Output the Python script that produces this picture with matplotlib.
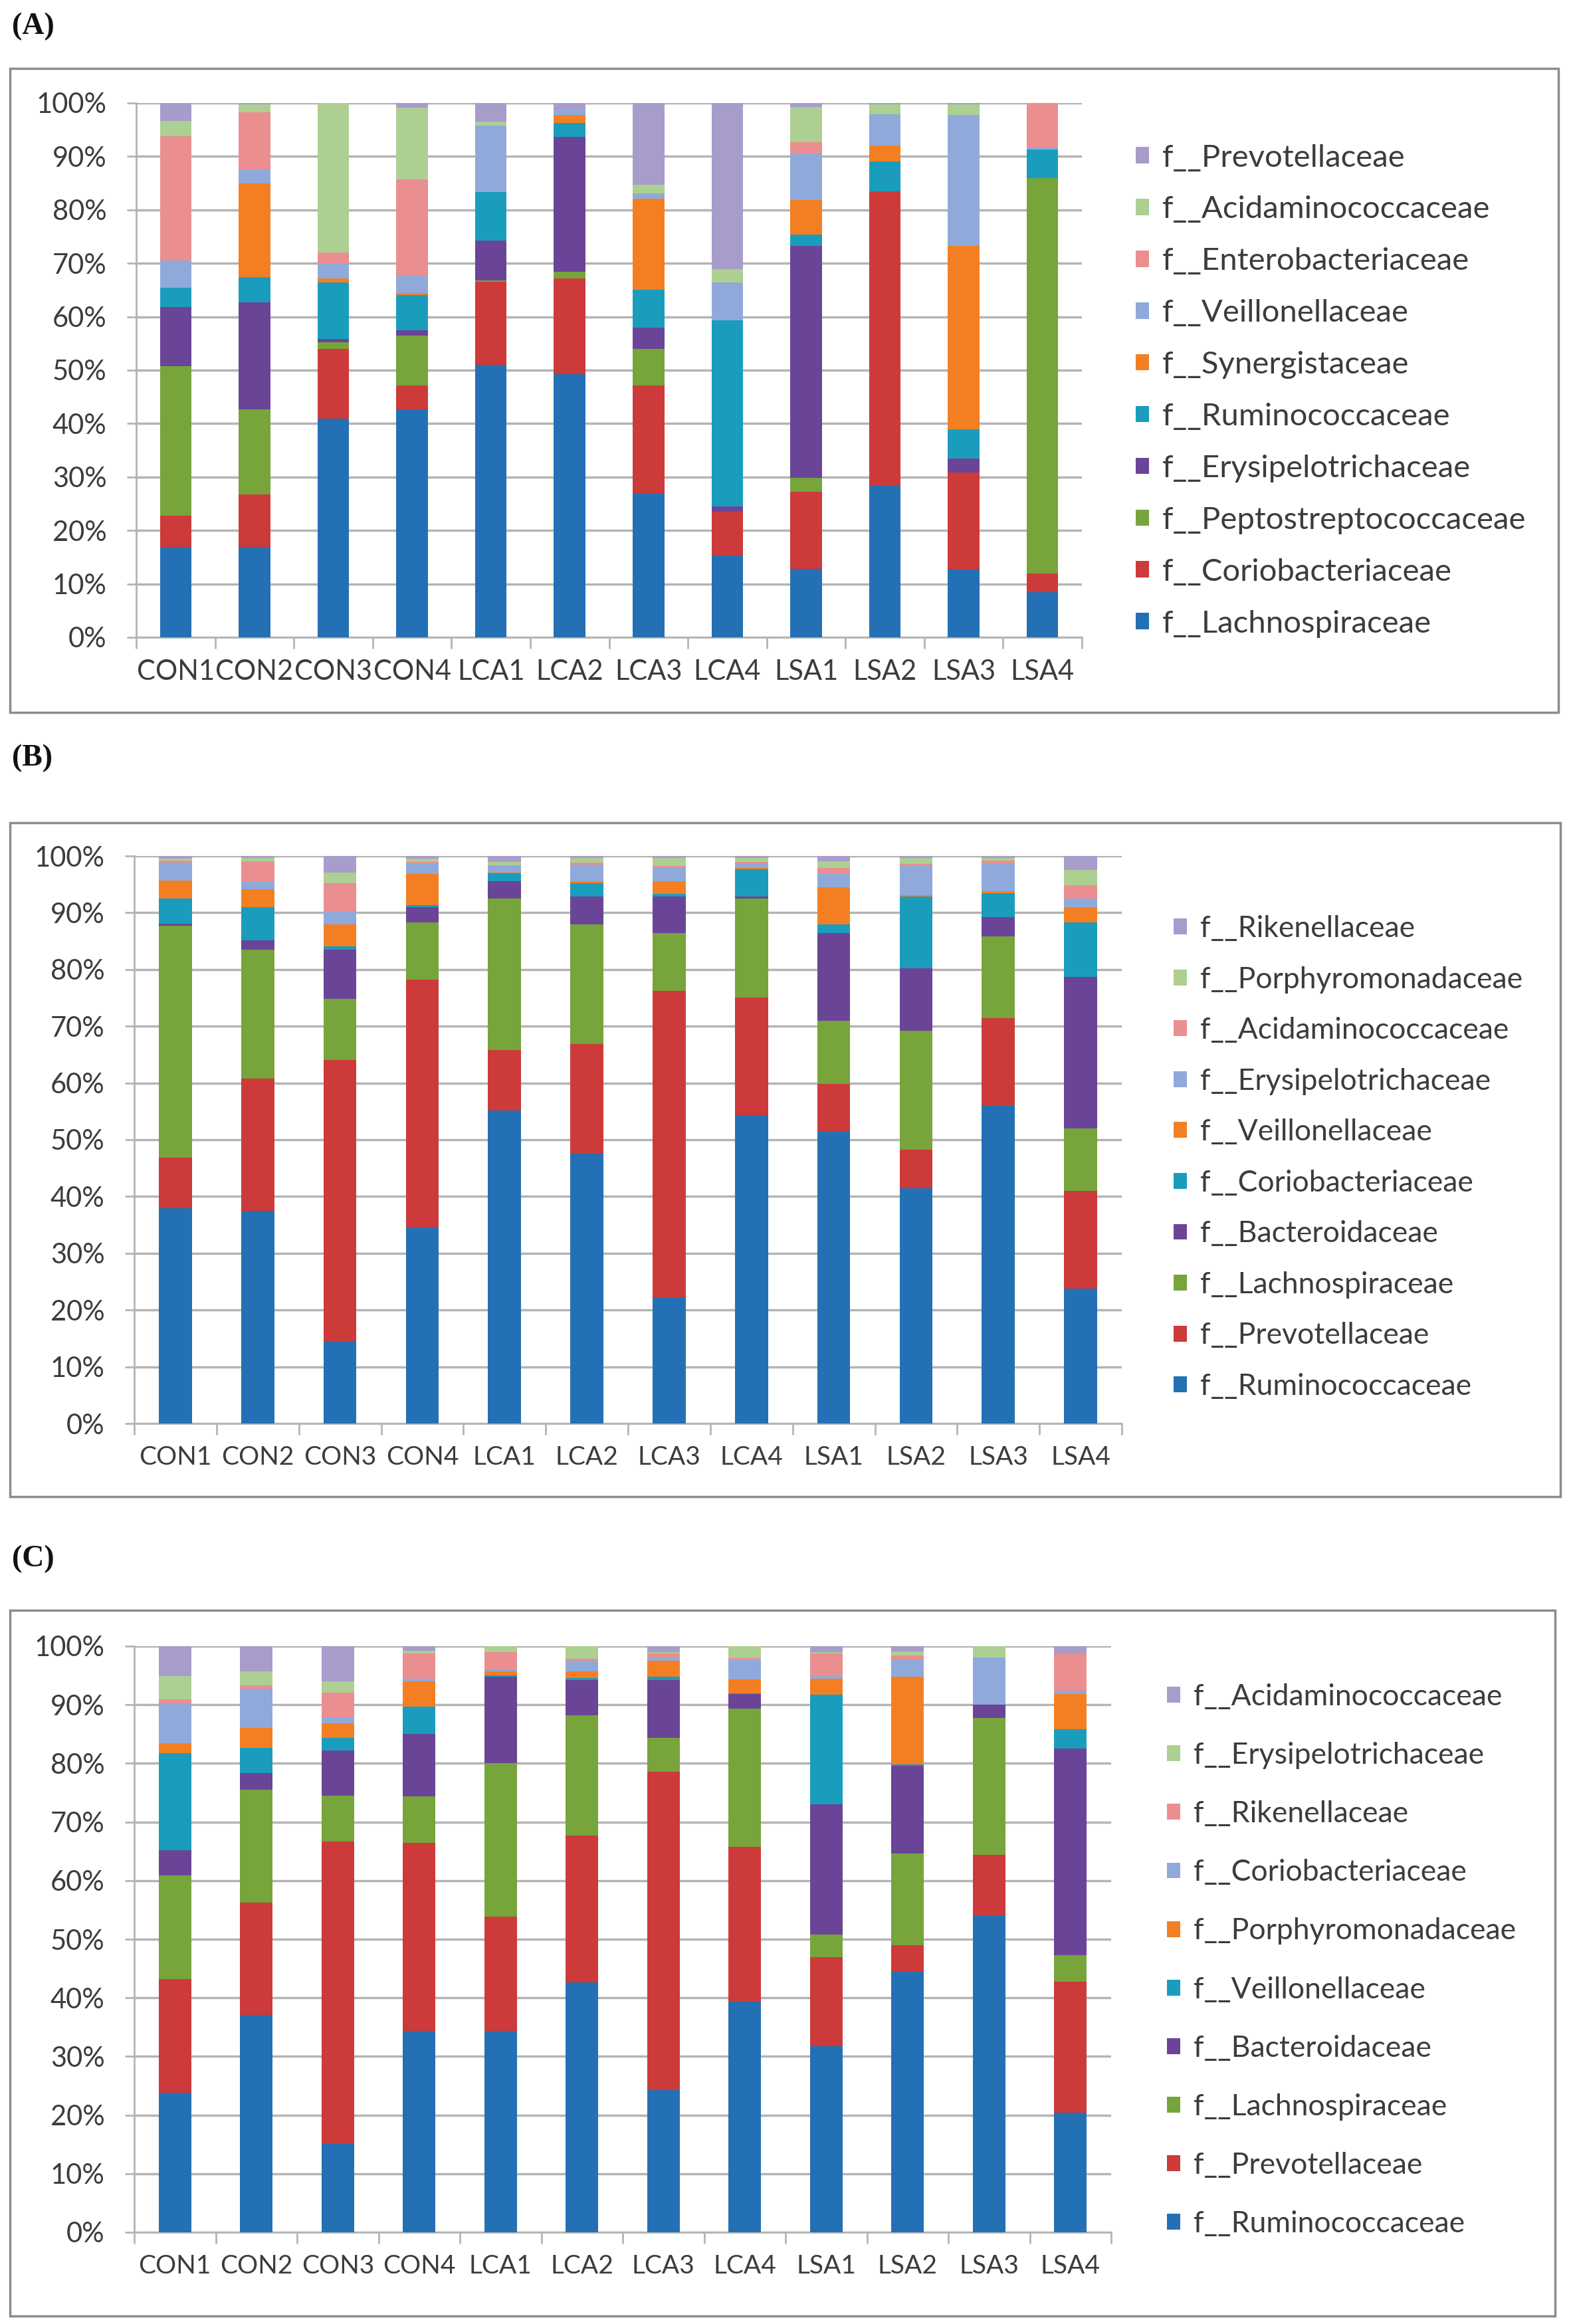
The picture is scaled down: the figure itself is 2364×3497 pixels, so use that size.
import matplotlib
matplotlib.use("Agg")
import matplotlib.pyplot as plt
from matplotlib.patches import Rectangle, Patch
import numpy as np

plt.rcParams['font.family'] = ['Lato', 'DejaVu Sans']

samples = ["CON1", "CON2", "CON3", "CON4", "LCA1", "LCA2", "LCA3", "LCA4",
           "LSA1", "LSA2", "LSA3", "LSA4"]

# ---------- Panel A (bottom -> top) ----------
a_families = ["f__Lachnospiraceae", "f__Coriobacteriaceae", "f__Peptostreptococcaceae",
              "f__Erysipelotrichaceae", "f__Ruminococcaceae", "f__Synergistaceae",
              "f__Veillonellaceae", "f__Enterobacteriaceae", "f__Acidaminococcaceae",
              "f__Prevotellaceae"]
a_lachno = [16.9, 16.9, 40.9, 42.7, 51.0, 49.3, 27.0, 15.3, 12.8, 28.4, 12.7, 8.5]
a_corio = [5.9, 9.9, 13.1, 4.5, 15.6, 17.9, 20.2, 8.2, 14.4, 55.1, 18.1, 3.5]
a_pepto = [27.9, 15.9, 1.2, 9.3, 0.2, 1.2, 6.8, 0, 2.7, 0, 0, 74.0]
a_erysi = [11.1, 20.0, 0.7, 1.0, 7.4, 25.2, 3.9, 1.0, 43.4, 0, 2.6, 0]
a_rumino = [3.6, 4.7, 10.5, 6.6, 9.1, 2.7, 7.1, 34.8, 2.1, 5.5, 5.5, 5.3]
a_synerg = [0, 17.5, 0.8, 0.3, 0, 1.4, 17.1, 0, 6.4, 3.1, 34.4, 0]
a_veill = [5.1, 2.7, 2.7, 3.2, 12.5, 1.0, 1.0, 7.1, 8.7, 5.8, 24.4, 0.4]
a_entero = [23.3, 10.7, 2.1, 18.1, 0, 0, 0, 0, 2.2, 0, 0, 8.3]
a_acida = [2.9, 1.4, 28.0, 13.4, 0.7, 0, 1.6, 2.5, 6.5, 1.8, 2.1, 0]
a_prevo = [3.3, 0.3, 0, 0.9, 3.5, 1.3, 15.3, 31.1, 0.8, 0.3, 0.2, 0]

# ---------- Panel B (bottom -> top) ----------
b_families = ["f__Ruminococcaceae", "f__Prevotellaceae", "f__Lachnospiraceae",
              "f__Bacteroidaceae", "f__Coriobacteriaceae", "f__Veillonellaceae",
              "f__Erysipelotrichaceae", "f__Acidaminococcaceae", "f__Porphyromonadaceae",
              "f__Rikenellaceae"]
b_rumino = [37.9, 37.5, 14.5, 34.5, 55.2, 47.5, 22.2, 54.3, 51.4, 41.5, 56.0, 23.8]
b_prevo = [8.9, 23.3, 49.6, 43.7, 10.6, 19.4, 54.0, 20.8, 8.4, 6.7, 15.4, 17.2]
b_lachno = [40.9, 22.7, 10.7, 10.1, 26.7, 21.0, 10.2, 17.4, 11.2, 21.0, 14.4, 11.0]
b_bacter = [0.3, 1.6, 8.7, 2.7, 3.1, 5.0, 6.5, 0.4, 15.4, 11.0, 3.4, 26.7]
b_corio = [4.5, 5.9, 0.6, 0.3, 1.3, 2.3, 0.4, 4.8, 1.5, 12.7, 4.3, 9.6]
b_veill = [3.2, 3.1, 3.8, 5.5, 0.2, 0.3, 2.3, 0.2, 6.6, 0.2, 0.3, 2.7]
b_erysi = [3.1, 1.3, 2.3, 1.9, 1.1, 3.0, 2.3, 0.8, 2.3, 5.3, 4.9, 1.5]
b_acida = [0.4, 3.7, 5.0, 0.3, 0.2, 0.3, 0.3, 0.2, 1.1, 0.2, 0.5, 2.3]
b_porph = [0.3, 0.5, 1.9, 0.5, 0.5, 0.8, 1.5, 0.8, 1.2, 1.1, 0.5, 2.7]
b_riken = [0.5, 0.4, 2.9, 0.5, 1.1, 0.4, 0.3, 0.3, 0.9, 0.3, 0.3, 2.5]

# ---------- Panel C (bottom -> top) ----------
c_families = ["f__Ruminococcaceae", "f__Prevotellaceae", "f__Lachnospiraceae",
              "f__Bacteroidaceae", "f__Veillonellaceae", "f__Porphyromonadaceae",
              "f__Coriobacteriaceae", "f__Rikenellaceae", "f__Erysipelotrichaceae",
              "f__Acidaminococcaceae"]
c_rumino = [23.8, 37.1, 15.2, 34.4, 34.4, 42.6, 24.3, 39.3, 31.7, 44.5, 54.1, 20.4]
c_prevo = [19.4, 19.1, 51.5, 32.0, 19.5, 25.1, 54.3, 26.5, 15.2, 4.5, 10.3, 22.4]
c_lachno = [17.7, 19.3, 7.8, 8.0, 26.2, 20.5, 5.7, 23.5, 3.9, 15.6, 23.4, 4.5]
c_bacter = [4.3, 2.9, 7.7, 10.6, 14.7, 6.0, 9.9, 2.5, 22.2, 15.0, 2.2, 35.2]
c_veill = [16.5, 4.3, 2.1, 4.7, 0.2, 0.4, 0.6, 0.1, 18.7, 0.2, 0, 3.3]
c_porph = [1.8, 3.4, 2.5, 4.3, 0.7, 1.1, 2.7, 2.4, 2.7, 15.0, 0, 6.0]
c_corio = [6.6, 6.7, 1.0, 0.4, 0.3, 1.8, 0.5, 3.3, 0.5, 2.9, 8.1, 0.6]
c_riken = [0.8, 0.5, 4.3, 4.3, 3.0, 0.3, 0.7, 0.4, 3.8, 0.7, 0, 6.3]
c_erysi = [4.0, 2.4, 1.9, 0.5, 1.0, 2.2, 0.3, 2.0, 0.3, 0.7, 1.9, 0.0]
c_acida = [5.1, 4.3, 6.0, 0.8, 0.0, 0.0, 1.0, 0.0, 1.0, 0.9, 0, 1.3]

panel_labels = ["(A)", "(B)", "(C)"]
y_ticks = [0, 10, 20, 30, 40, 50, 60, 70, 80, 90, 100]

colors = ["#2470B4", "#CC3B3A", "#77A43B", "#6A4597", "#1A9DBD",
          "#F47F22", "#8FAADA", "#EB8E90", "#ADCF92", "#A89CCB"]

W, H = 2364, 3497
DPI = 100
fig = plt.figure(figsize=(W / DPI, H / DPI), dpi=DPI)
fig.patch.set_facecolor("white")


def fx(px):
    return px / W


def fy(py):
    return 1 - py / H


panels = [
    dict(series=[a_lachno, a_corio, a_pepto, a_erysi, a_rumino, a_synerg,
                 a_veill, a_entero, a_acida, a_prevo],
         names=a_families, ax=(205, 155, 1628, 959), box=(15, 103, 2345, 1072),
         label_y=40, leg=(1709, 588), leg_fs=34, leg_sp=0.76, xtick_fs=30),
    dict(series=[b_rumino, b_prevo, b_lachno, b_bacter, b_corio, b_veill,
                 b_erysi, b_acida, b_porph, b_riken],
         names=b_families, ax=(202, 1288, 1688, 2142), box=(15, 1238, 2348, 2252),
         label_y=1141, leg=(1766, 1742), leg_fs=32, leg_sp=0.80, xtick_fs=28),
    dict(series=[c_rumino, c_prevo, c_lachno, c_bacter, c_veill, c_porph,
                 c_corio, c_riken, c_erysi, c_acida],
         names=c_families, ax=(202, 2477, 1672, 3359), box=(15, 2423, 2340, 3485),
         label_y=2346, leg=(1756, 2950), leg_fs=32, leg_sp=1.06, xtick_fs=28),
]

grid_c = "#B4B4B4"
text_c = "#3C3C3C"

for i, p in enumerate(panels):
    # outer frame
    bx0, by0, bx1, by1 = p["box"]
    fig.patches.append(Rectangle((fx(bx0), fy(by1)), fx(bx1 - bx0), (by1 - by0) / H,
                                 transform=fig.transFigure, fill=False,
                                 edgecolor="#8C8C8C", linewidth=2.5, zorder=0))
    fig.text(fx(18), fy(p["label_y"]), panel_labels[i], fontsize=33, fontweight="bold",
             family="Liberation Serif", va="center", ha="left", color="#111111")

    l, t, r, b = p["ax"]
    ax = fig.add_axes([fx(l), fy(b), fx(r - l), (b - t) / H])
    x = np.arange(len(samples))
    bottom = np.zeros(len(samples))
    handles = []
    for k, vals in enumerate(p["series"]):
        v = np.array(vals, dtype=float)
        ax.bar(x, v, width=0.4, bottom=bottom, color=colors[k], linewidth=0, zorder=3)
        bottom += v
        handles.append(Patch(facecolor=colors[k], edgecolor="none", label=p["names"][k]))

    ax.set_xlim(-0.5, len(samples) - 0.5)
    ax.set_ylim(0, 100)
    ax.set_yticks(y_ticks)
    ax.set_yticklabels([f"{v}%" for v in y_ticks], fontsize=30, color=text_c)
    ax.yaxis.grid(True, color=grid_c, linewidth=2.5, zorder=0)
    ax.set_axisbelow(True)
    ax.tick_params(axis="y", length=10, width=2.0, color=grid_c, pad=22)

    ax.set_xticks(x)
    ax.set_xticklabels(samples, fontsize=p["xtick_fs"], color=text_c)
    ax.set_xticks(np.arange(-0.5, len(samples)), minor=True)
    ax.tick_params(axis="x", which="major", length=0, pad=24)
    ax.tick_params(axis="x", which="minor", length=12, width=2.0, color=grid_c,
                   direction="out")

    for s in ["top", "right"]:
        ax.spines[s].set_visible(False)
    for s in ["left", "bottom"]:
        ax.spines[s].set_color(grid_c)
        ax.spines[s].set_linewidth(2.0)

    lx, ly = p["leg"]
    fs_px = p["leg_fs"] * DPI / 72.0
    fig.legend(handles=handles[::-1], loc="center left",
               bbox_to_anchor=(fx(lx), fy(ly)), bbox_transform=fig.transFigure,
               frameon=False, fontsize=p["leg_fs"], labelspacing=p["leg_sp"],
               handlelength=20 / fs_px, handleheight=20 / fs_px,
               handletextpad=20 / fs_px,
               borderpad=0, borderaxespad=0, labelcolor=text_c)

fig.savefig("out.png", dpi=DPI, facecolor="white")
